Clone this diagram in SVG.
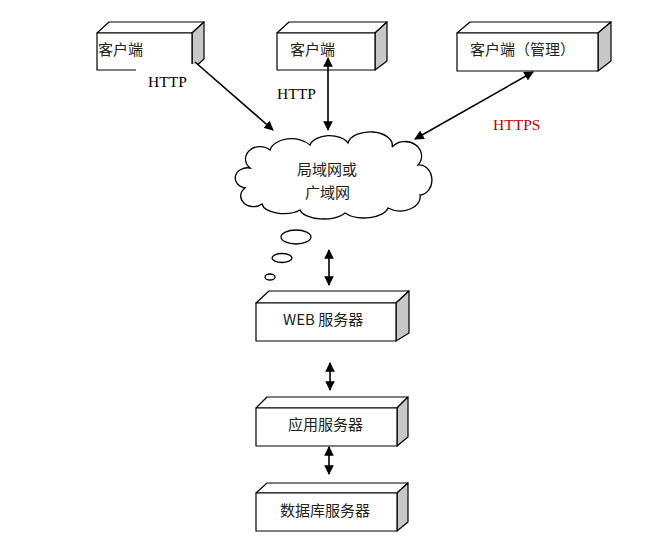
<svg xmlns="http://www.w3.org/2000/svg" width="647" height="540" viewBox="0 0 647 540">
<style>
.face{fill:#fff;stroke:#000;stroke-width:1.2;stroke-linejoin:round}
.side{fill:#c8c8c8;stroke:#000;stroke-width:1.2;stroke-linejoin:round}
.cn{font-family:"Noto Sans CJK SC","Noto Sans CJK JP",sans-serif;font-size:15px;fill:#222}
.lat{font-family:"Liberation Serif",serif;font-size:15.5px;fill:#000}
.red{fill:#c00000}
.conn{stroke:#000;stroke-width:1.6;fill:none}
.cloud{fill:#fff;stroke:#000;stroke-width:1.3}
</style>
<defs>
<marker id="ah" viewBox="0 0 10 10" refX="9" refY="5" markerWidth="6" markerHeight="6" orient="auto-start-reverse" markerUnits="strokeWidth">
<path d="M0,0 L10,5 L0,10 Z" fill="#000"/>
</marker>
</defs>
<rect width="647" height="540" fill="#fff"/>

<g id="client1">
<polygon class="face" points="97,33 109,22 204,22 192,33"/>
<polygon class="side" points="192,33 204,22 204,59 192,70"/>
<rect class="face" x="97" y="33" width="95" height="37"/>
<text class="cn" x="98" y="55">客户端</text>
</g>
<g id="client2">
<polygon class="face" points="277,33 289,22 387,22 375,33"/>
<polygon class="side" points="375,33 387,22 387,61 375,70"/>
<rect class="face" x="277" y="33" width="98" height="37"/>
<text class="cn" x="290" y="55">客户端</text>
</g>
<g id="client3">
<polygon class="face" points="457,33 470,22 611,22 598,33"/>
<polygon class="side" points="598,33 611,22 611,61 598,71"/>
<rect class="face" x="457" y="33" width="141" height="38"/>
<text class="cn" x="470" y="55">客户端（管理）</text>
</g>

<g id="http-label-1">
<rect x="136" y="64" width="62" height="34" fill="#fff"/>
<text class="lat" x="148" y="87">HTTP</text>
</g>
<g id="http-label-2">
<text class="lat" x="277" y="99">HTTP</text>
</g>
<g id="https-label">
<text class="lat red" x="493" y="130">HTTPS</text>
</g>

<g id="cloud">
<path class="cloud" d="M250,168 A14,12 0 0 1 270,150 A22,14 0 0 1 310,145 A20,12 0 0 1 348,143 A22,13 0 0 1 392,147 A16,14 0 0 1 418,165 A12,14 0 0 1 420,195 A20,14 0 0 1 388,208 A24,12 0 0 1 345,213 A24,11 0 0 1 300,210 A22,11 0 0 1 262,204 A12,10 0 0 1 245,188 A12,10 0 0 1 250,168 Z"/>
<text class="cn" x="297" y="175">局域网或</text>
<text class="cn" x="305" y="198">广域网</text>
<ellipse class="cloud" cx="296" cy="237" rx="15" ry="7"/>
<ellipse class="cloud" cx="282" cy="258" rx="10" ry="4.5"/>
<ellipse class="cloud" cx="270" cy="277" rx="5" ry="3"/>
</g>

<g id="web">
<polygon class="face" points="256,303 269,291 409,291 396,303"/>
<polygon class="side" points="396,303 409,291 409,333 396,341"/>
<rect class="face" x="256" y="303" width="140" height="38"/>
<text class="cn" x="283" y="325">WEB 服务器</text>
</g>
<g id="app">
<polygon class="face" points="256,408 267,397 408,397 397,408"/>
<polygon class="side" points="397,408 408,397 408,437 397,446"/>
<rect class="face" x="256" y="408" width="141" height="38"/>
<text class="cn" x="288" y="430">应用服务器</text>
</g>
<g id="db">
<polygon class="face" points="256,493 267,483 408,483 397,493"/>
<polygon class="side" points="397,493 408,483 408,522 397,531"/>
<rect class="face" x="256" y="493" width="141" height="38"/>
<text class="cn" x="280" y="516">数据库服务器</text>
</g>

<g id="connectors">
<line class="conn" x1="195" y1="62" x2="273" y2="130" marker-end="url(#ah)"/>
<line class="conn" x1="328" y1="58" x2="328" y2="130" marker-start="url(#ah)" marker-end="url(#ah)"/>
<line class="conn" x1="533" y1="72" x2="415" y2="139" marker-start="url(#ah)" marker-end="url(#ah)"/>
<line class="conn" x1="329" y1="250" x2="329" y2="285" marker-start="url(#ah)" marker-end="url(#ah)"/>
<line class="conn" x1="330" y1="363" x2="330" y2="390" marker-start="url(#ah)" marker-end="url(#ah)"/>
<line class="conn" x1="329" y1="447" x2="329" y2="474" marker-start="url(#ah)" marker-end="url(#ah)"/>
</g>
</svg>
